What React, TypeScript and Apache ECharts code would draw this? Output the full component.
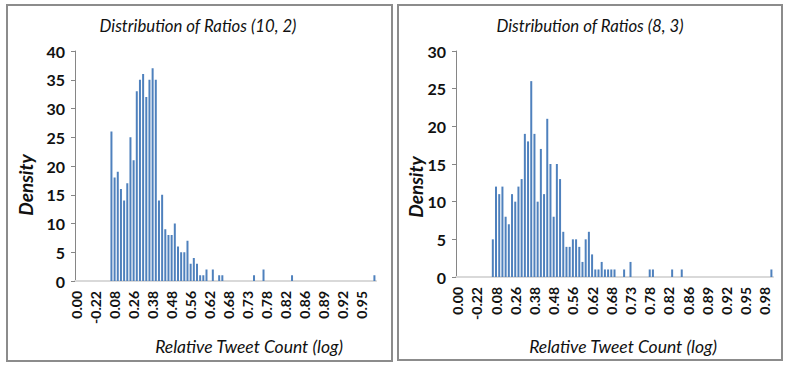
import React, { useEffect, useRef } from "react";
import * as echarts from "echarts";

// Tick labels shown on each x axis (every 6th bin)
const tickLabelsLeft = ["0.00", "-0.22", "0.08", "0.26", "0.38", "0.48", "0.56", "0.62", "0.68", "0.73", "0.78", "0.82", "0.86", "0.89", "0.92", "0.95"];
const tickLabelsRight = ["0.00", "-0.22", "0.08", "0.26", "0.38", "0.48", "0.56", "0.62", "0.68", "0.73", "0.78", "0.82", "0.86", "0.89", "0.92", "0.95", "0.98"];

// Density per bin, left chart (10, 2): 95 bins
const densityLeft = [
  0, 0, 0, 0, 0, 0, 0, 0, 0, 0, 0,
  26, 18, 19, 16, 14, 17, 25, 21, 33, 35,
  36, 32, 35, 37, 35, 14, 15, 9, 8, 8,
  10, 6, 5, 5, 7, 3, 4, 3, 1, 1,
  2, 0, 2, 0, 1, 1,
  0, 0, 0, 0, 0, 0, 0, 0, 0,
  1, 0, 0, 2,
  0, 0, 0, 0, 0, 0, 0, 0,
  1,
  0, 0, 0, 0, 0, 0, 0, 0, 0, 0, 0, 0, 0, 0, 0, 0, 0, 0, 0, 0, 0, 0, 0, 0, 0,
  1,
];

// Density per bin, right chart (8, 3): 99 bins
const densityRight = [
  0, 0, 0, 0, 0, 0, 0, 0, 0, 0, 0,
  5, 12, 11, 12, 8, 7, 11, 10, 12, 13,
  19, 18, 26, 19, 10, 17, 11, 21, 15, 8,
  15, 13, 6, 4, 4, 5, 5, 4, 2, 5,
  6, 3, 1, 1, 2, 1, 1, 1, 1,
  0, 0, 1, 0, 2,
  0, 0, 0, 0, 0,
  1, 1,
  0, 0, 0, 0, 0,
  1, 0, 0, 1,
  0, 0, 0, 0, 0, 0, 0, 0, 0, 0, 0, 0, 0, 0, 0, 0, 0, 0, 0, 0, 0, 0, 0, 0, 0, 0, 0,
  1,
];

const titleLeft = "Distribution of Ratios (10, 2)";
const titleRight = "Distribution of Ratios (8, 3)";
const yName = "Density";
const xName = "Relative Tweet Count (log)";

const BAR = "#4f81bd";
const FONT = "Lato, 'Open Sans', sans-serif";

function makeCats(n: number, labels: string[]) {
  return Array.from({ length: n }, (_, i) => (i % 6 === 0 && labels[i / 6] !== undefined ? labels[i / 6] : "b" + i));
}

export default function App() {
  const ref = useRef<HTMLDivElement>(null);
  useEffect(() => {
    document.body.style.margin = "0";
    const chart = echarts.init(ref.current!, null, { renderer: "svg" });
    const catsL = makeCats(densityLeft.length, tickLabelsLeft);
    const catsR = makeCats(densityRight.length, tickLabelsRight);

    const xAxisCommon = {
      type: "category" as const,
      axisLine: { lineStyle: { color: "#d9d9d9", width: 2 } },
      axisTick: { show: false },
      axisLabel: {
        interval: 5,
        rotate: 90,
        margin: 10,
        fontFamily: FONT,
        fontWeight: "bold" as const,
        fontSize: 14,
        color: "#111",
      },
      splitLine: { show: false },
    };
    const yAxisCommon = {
      type: "value" as const,
      min: 0,
      interval: 5,
      axisLine: { show: true, lineStyle: { color: "#868686", width: 1 } },
      axisTick: { show: true, length: 4, lineStyle: { color: "#868686" } },
      axisLabel: { fontFamily: FONT, fontWeight: "bold" as const, fontSize: 16, color: "#111", margin: 10 },
      splitLine: { show: false },
    };
    const textStyle = (text: string, size: number) => ({
      text,
      fontFamily: FONT,
      fontStyle: "italic",
      fontSize: size,
      fill: "#111",
      align: "center",
      verticalAlign: "middle",
      textAlign: "center",
      textVerticalAlign: "middle",
    });

    chart.setOption({
      animation: false,
      backgroundColor: "#ffffff",
      grid: [
        { left: 75, top: 51, width: 301, height: 230 },
        { left: 456, top: 51, width: 317, height: 226 },
      ],
      xAxis: [
        { ...xAxisCommon, gridIndex: 0, data: catsL },
        { ...xAxisCommon, gridIndex: 1, data: catsR },
      ],
      yAxis: [
        { ...yAxisCommon, gridIndex: 0, max: 40 },
        { ...yAxisCommon, gridIndex: 1, max: 30 },
      ],
      series: [
        { type: "bar", xAxisIndex: 0, yAxisIndex: 0, data: densityLeft, barWidth: 2, itemStyle: { color: BAR } },
        { type: "bar", xAxisIndex: 1, yAxisIndex: 1, data: densityRight, barWidth: 2, itemStyle: { color: BAR } },
      ],
      graphic: [
        { type: "rect", shape: { x: 7, y: 5, width: 385, height: 356 }, style: { fill: "none", stroke: "#8c8c8c", lineWidth: 2 } },
        { type: "rect", shape: { x: 398, y: 5, width: 384, height: 355 }, style: { fill: "none", stroke: "#8c8c8c", lineWidth: 2 } },
        { type: "text", x: 198, y: 25, style: textStyle(titleLeft, 16.8) },
        { type: "text", x: 590, y: 25, style: textStyle(titleRight, 16.8) },
        { type: "text", x: 25, y: 185, rotation: Math.PI / 2, style: { ...textStyle(yName, 19), fontWeight: "bold" } },
        { type: "text", x: 415, y: 187, rotation: Math.PI / 2, style: { ...textStyle(yName, 19), fontWeight: "bold" } },
        { type: "text", x: 249, y: 346, style: textStyle(xName, 17.5) },
        { type: "text", x: 623, y: 346, style: textStyle(xName, 17.5) },
      ],
    });
    return () => chart.dispose();
  }, []);
  return <div ref={ref} style={{ width: 786, height: 367 }} />;
}
